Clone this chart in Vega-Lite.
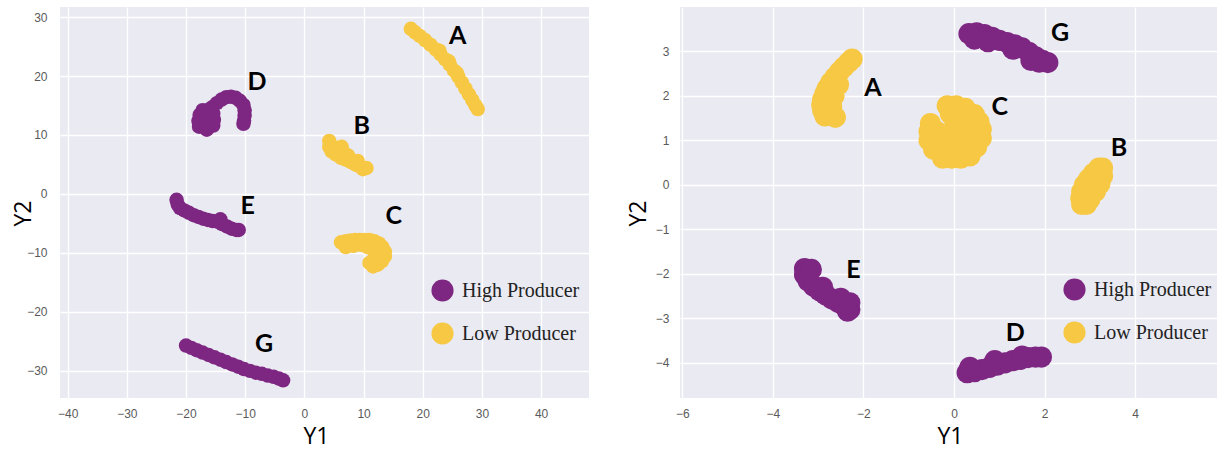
{
  "$schema": "https://vega.github.io/schema/vega-lite/v6.json",
  "background": "white",
  "padding": {"left": 12, "top": 7, "right": 0, "bottom": 14},
  "bounds": "flush",
  "spacing": 91,
  "datasets": {
    "left": [
      {"y1": 18.0, "y2": 28.0, "producer": "Low Producer", "cluster": "A"},
      {"y1": 18.7, "y2": 27.4, "producer": "Low Producer", "cluster": "A"},
      {"y1": 19.5, "y2": 26.8, "producer": "Low Producer", "cluster": "A"},
      {"y1": 20.4, "y2": 26.1, "producer": "Low Producer", "cluster": "A"},
      {"y1": 21.3, "y2": 25.3, "producer": "Low Producer", "cluster": "A"},
      {"y1": 22.2, "y2": 24.5, "producer": "Low Producer", "cluster": "A"},
      {"y1": 23.0, "y2": 23.7, "producer": "Low Producer", "cluster": "A"},
      {"y1": 23.8, "y2": 22.8, "producer": "Low Producer", "cluster": "A"},
      {"y1": 24.6, "y2": 21.9, "producer": "Low Producer", "cluster": "A"},
      {"y1": 25.3, "y2": 20.9, "producer": "Low Producer", "cluster": "A"},
      {"y1": 26.0, "y2": 19.9, "producer": "Low Producer", "cluster": "A"},
      {"y1": 26.6, "y2": 18.9, "producer": "Low Producer", "cluster": "A"},
      {"y1": 27.2, "y2": 17.9, "producer": "Low Producer", "cluster": "A"},
      {"y1": 27.8, "y2": 16.9, "producer": "Low Producer", "cluster": "A"},
      {"y1": 28.4, "y2": 15.9, "producer": "Low Producer", "cluster": "A"},
      {"y1": 28.9, "y2": 15.0, "producer": "Low Producer", "cluster": "A"},
      {"y1": 29.3, "y2": 14.4, "producer": "Low Producer", "cluster": "A"},
      {"y1": 22.8, "y2": 24.3, "producer": "Low Producer", "cluster": "A"},
      {"y1": 24.4, "y2": 22.5, "producer": "Low Producer", "cluster": "A"},
      {"y1": 25.8, "y2": 20.5, "producer": "Low Producer", "cluster": "A"},
      {"y1": 4.2, "y2": 9.0, "producer": "Low Producer", "cluster": "B"},
      {"y1": 4.2, "y2": 8.0, "producer": "Low Producer", "cluster": "B"},
      {"y1": 4.6, "y2": 7.2, "producer": "Low Producer", "cluster": "B"},
      {"y1": 5.3, "y2": 6.7, "producer": "Low Producer", "cluster": "B"},
      {"y1": 5.6, "y2": 7.8, "producer": "Low Producer", "cluster": "B"},
      {"y1": 6.3, "y2": 8.0, "producer": "Low Producer", "cluster": "B"},
      {"y1": 6.6, "y2": 7.1, "producer": "Low Producer", "cluster": "B"},
      {"y1": 6.2, "y2": 6.1, "producer": "Low Producer", "cluster": "B"},
      {"y1": 7.0, "y2": 5.8, "producer": "Low Producer", "cluster": "B"},
      {"y1": 7.4, "y2": 6.5, "producer": "Low Producer", "cluster": "B"},
      {"y1": 7.9, "y2": 5.4, "producer": "Low Producer", "cluster": "B"},
      {"y1": 8.6, "y2": 5.0, "producer": "Low Producer", "cluster": "B"},
      {"y1": 9.0, "y2": 5.6, "producer": "Low Producer", "cluster": "B"},
      {"y1": 9.3, "y2": 4.7, "producer": "Low Producer", "cluster": "B"},
      {"y1": 9.9, "y2": 4.2, "producer": "Low Producer", "cluster": "B"},
      {"y1": 10.5, "y2": 4.4, "producer": "Low Producer", "cluster": "B"},
      {"y1": 6.2, "y2": -8.2, "producer": "Low Producer", "cluster": "C"},
      {"y1": 7.0, "y2": -8.0, "producer": "Low Producer", "cluster": "C"},
      {"y1": 7.8, "y2": -7.9, "producer": "Low Producer", "cluster": "C"},
      {"y1": 8.6, "y2": -7.8, "producer": "Low Producer", "cluster": "C"},
      {"y1": 9.4, "y2": -7.8, "producer": "Low Producer", "cluster": "C"},
      {"y1": 10.2, "y2": -7.8, "producer": "Low Producer", "cluster": "C"},
      {"y1": 11.0, "y2": -7.8, "producer": "Low Producer", "cluster": "C"},
      {"y1": 11.8, "y2": -8.0, "producer": "Low Producer", "cluster": "C"},
      {"y1": 12.6, "y2": -8.4, "producer": "Low Producer", "cluster": "C"},
      {"y1": 13.2, "y2": -9.0, "producer": "Low Producer", "cluster": "C"},
      {"y1": 13.6, "y2": -9.8, "producer": "Low Producer", "cluster": "C"},
      {"y1": 13.6, "y2": -10.6, "producer": "Low Producer", "cluster": "C"},
      {"y1": 13.1, "y2": -11.4, "producer": "Low Producer", "cluster": "C"},
      {"y1": 12.4, "y2": -12.0, "producer": "Low Producer", "cluster": "C"},
      {"y1": 11.6, "y2": -12.3, "producer": "Low Producer", "cluster": "C"},
      {"y1": 11.0, "y2": -11.7, "producer": "Low Producer", "cluster": "C"},
      {"y1": 11.9, "y2": -10.5, "producer": "Low Producer", "cluster": "C"},
      {"y1": 12.4, "y2": -9.4, "producer": "Low Producer", "cluster": "C"},
      {"y1": 7.0, "y2": -9.0, "producer": "Low Producer", "cluster": "C"},
      {"y1": 8.3, "y2": -8.8, "producer": "Low Producer", "cluster": "C"},
      {"y1": 9.5, "y2": -8.6, "producer": "Low Producer", "cluster": "C"},
      {"y1": 10.7, "y2": -9.0, "producer": "Low Producer", "cluster": "C"},
      {"y1": 11.3, "y2": -8.8, "producer": "Low Producer", "cluster": "C"},
      {"y1": -17.8, "y2": 11.4, "producer": "High Producer", "cluster": "D"},
      {"y1": -17.9, "y2": 12.4, "producer": "High Producer", "cluster": "D"},
      {"y1": -17.7, "y2": 13.4, "producer": "High Producer", "cluster": "D"},
      {"y1": -17.2, "y2": 14.2, "producer": "High Producer", "cluster": "D"},
      {"y1": -16.5, "y2": 10.9, "producer": "High Producer", "cluster": "D"},
      {"y1": -16.6, "y2": 12.0, "producer": "High Producer", "cluster": "D"},
      {"y1": -16.6, "y2": 13.0, "producer": "High Producer", "cluster": "D"},
      {"y1": -16.4, "y2": 14.2, "producer": "High Producer", "cluster": "D"},
      {"y1": -15.4, "y2": 11.6, "producer": "High Producer", "cluster": "D"},
      {"y1": -15.3, "y2": 12.6, "producer": "High Producer", "cluster": "D"},
      {"y1": -15.4, "y2": 13.6, "producer": "High Producer", "cluster": "D"},
      {"y1": -15.6, "y2": 14.7, "producer": "High Producer", "cluster": "D"},
      {"y1": -14.8, "y2": 15.4, "producer": "High Producer", "cluster": "D"},
      {"y1": -14.0, "y2": 16.0, "producer": "High Producer", "cluster": "D"},
      {"y1": -13.2, "y2": 16.4, "producer": "High Producer", "cluster": "D"},
      {"y1": -12.4, "y2": 16.5, "producer": "High Producer", "cluster": "D"},
      {"y1": -11.6, "y2": 16.3, "producer": "High Producer", "cluster": "D"},
      {"y1": -10.9, "y2": 15.8, "producer": "High Producer", "cluster": "D"},
      {"y1": -10.3, "y2": 15.1, "producer": "High Producer", "cluster": "D"},
      {"y1": -10.1, "y2": 14.2, "producer": "High Producer", "cluster": "D"},
      {"y1": -10.1, "y2": 13.3, "producer": "High Producer", "cluster": "D"},
      {"y1": -10.2, "y2": 12.4, "producer": "High Producer", "cluster": "D"},
      {"y1": -10.3, "y2": 11.9, "producer": "High Producer", "cluster": "D"},
      {"y1": -21.6, "y2": -1.0, "producer": "High Producer", "cluster": "E"},
      {"y1": -21.4, "y2": -1.8, "producer": "High Producer", "cluster": "E"},
      {"y1": -21.0, "y2": -2.4, "producer": "High Producer", "cluster": "E"},
      {"y1": -20.3, "y2": -2.8, "producer": "High Producer", "cluster": "E"},
      {"y1": -19.5, "y2": -3.2, "producer": "High Producer", "cluster": "E"},
      {"y1": -18.7, "y2": -3.6, "producer": "High Producer", "cluster": "E"},
      {"y1": -17.9, "y2": -3.9, "producer": "High Producer", "cluster": "E"},
      {"y1": -17.1, "y2": -4.2, "producer": "High Producer", "cluster": "E"},
      {"y1": -16.3, "y2": -4.4, "producer": "High Producer", "cluster": "E"},
      {"y1": -15.5, "y2": -4.6, "producer": "High Producer", "cluster": "E"},
      {"y1": -14.7, "y2": -4.7, "producer": "High Producer", "cluster": "E"},
      {"y1": -14.2, "y2": -4.3, "producer": "High Producer", "cluster": "E"},
      {"y1": -13.9, "y2": -5.1, "producer": "High Producer", "cluster": "E"},
      {"y1": -13.1, "y2": -5.5, "producer": "High Producer", "cluster": "E"},
      {"y1": -12.3, "y2": -5.9, "producer": "High Producer", "cluster": "E"},
      {"y1": -11.5, "y2": -6.1, "producer": "High Producer", "cluster": "E"},
      {"y1": -11.1, "y2": -6.1, "producer": "High Producer", "cluster": "E"},
      {"y1": -20.0, "y2": -25.7, "producer": "High Producer", "cluster": "G"},
      {"y1": -19.1, "y2": -26.1, "producer": "High Producer", "cluster": "G"},
      {"y1": -18.2, "y2": -26.5, "producer": "High Producer", "cluster": "G"},
      {"y1": -17.2, "y2": -26.9, "producer": "High Producer", "cluster": "G"},
      {"y1": -16.2, "y2": -27.3, "producer": "High Producer", "cluster": "G"},
      {"y1": -15.2, "y2": -27.7, "producer": "High Producer", "cluster": "G"},
      {"y1": -14.2, "y2": -28.1, "producer": "High Producer", "cluster": "G"},
      {"y1": -13.2, "y2": -28.5, "producer": "High Producer", "cluster": "G"},
      {"y1": -12.2, "y2": -28.9, "producer": "High Producer", "cluster": "G"},
      {"y1": -11.2, "y2": -29.3, "producer": "High Producer", "cluster": "G"},
      {"y1": -10.2, "y2": -29.7, "producer": "High Producer", "cluster": "G"},
      {"y1": -9.2, "y2": -30.0, "producer": "High Producer", "cluster": "G"},
      {"y1": -8.2, "y2": -30.3, "producer": "High Producer", "cluster": "G"},
      {"y1": -7.2, "y2": -30.5, "producer": "High Producer", "cluster": "G"},
      {"y1": -6.2, "y2": -30.8, "producer": "High Producer", "cluster": "G"},
      {"y1": -5.2, "y2": -31.0, "producer": "High Producer", "cluster": "G"},
      {"y1": -4.3, "y2": -31.3, "producer": "High Producer", "cluster": "G"},
      {"y1": -3.6, "y2": -31.6, "producer": "High Producer", "cluster": "G"}
    ],
    "leftLabels": [
      {"y1": 25.9, "y2": 26.7, "cluster": "A"},
      {"y1": 9.7, "y2": 11.6, "cluster": "B"},
      {"y1": 15.1, "y2": -3.8, "cluster": "C"},
      {"y1": -8.0, "y2": 18.9, "cluster": "D"},
      {"y1": -9.6, "y2": -2.0, "cluster": "E"},
      {"y1": -6.8, "y2": -25.4, "cluster": "G"}
    ],
    "right": [
      {"y1": -2.85, "y2": 1.55, "producer": "Low Producer", "cluster": "A"},
      {"y1": -2.9, "y2": 1.68, "producer": "Low Producer", "cluster": "A"},
      {"y1": -2.92, "y2": 1.8, "producer": "Low Producer", "cluster": "A"},
      {"y1": -2.9, "y2": 1.92, "producer": "Low Producer", "cluster": "A"},
      {"y1": -2.85, "y2": 2.05, "producer": "Low Producer", "cluster": "A"},
      {"y1": -2.8, "y2": 2.17, "producer": "Low Producer", "cluster": "A"},
      {"y1": -2.72, "y2": 2.3, "producer": "Low Producer", "cluster": "A"},
      {"y1": -2.63, "y2": 2.42, "producer": "Low Producer", "cluster": "A"},
      {"y1": -2.53, "y2": 2.54, "producer": "Low Producer", "cluster": "A"},
      {"y1": -2.43, "y2": 2.65, "producer": "Low Producer", "cluster": "A"},
      {"y1": -2.33, "y2": 2.75, "producer": "Low Producer", "cluster": "A"},
      {"y1": -2.25, "y2": 2.83, "producer": "Low Producer", "cluster": "A"},
      {"y1": -2.62, "y2": 1.52, "producer": "Low Producer", "cluster": "A"},
      {"y1": -2.7, "y2": 1.75, "producer": "Low Producer", "cluster": "A"},
      {"y1": -2.65, "y2": 2.0, "producer": "Low Producer", "cluster": "A"},
      {"y1": -2.55, "y2": 2.25, "producer": "Low Producer", "cluster": "A"},
      {"y1": 2.82, "y2": -0.44, "producer": "Low Producer", "cluster": "B"},
      {"y1": 2.8, "y2": -0.3, "producer": "Low Producer", "cluster": "B"},
      {"y1": 2.82, "y2": -0.15, "producer": "Low Producer", "cluster": "B"},
      {"y1": 2.88, "y2": 0.0, "producer": "Low Producer", "cluster": "B"},
      {"y1": 2.97, "y2": 0.13, "producer": "Low Producer", "cluster": "B"},
      {"y1": 3.08, "y2": 0.26, "producer": "Low Producer", "cluster": "B"},
      {"y1": 3.2, "y2": 0.38, "producer": "Low Producer", "cluster": "B"},
      {"y1": 3.28, "y2": 0.38, "producer": "Low Producer", "cluster": "B"},
      {"y1": 3.28, "y2": 0.2, "producer": "Low Producer", "cluster": "B"},
      {"y1": 3.22, "y2": 0.02, "producer": "Low Producer", "cluster": "B"},
      {"y1": 3.12, "y2": -0.15, "producer": "Low Producer", "cluster": "B"},
      {"y1": 3.0, "y2": -0.32, "producer": "Low Producer", "cluster": "B"},
      {"y1": 2.92, "y2": -0.44, "producer": "Low Producer", "cluster": "B"},
      {"y1": 3.05, "y2": 0.05, "producer": "Low Producer", "cluster": "B"},
      {"y1": -0.25, "y2": 0.6, "producer": "Low Producer", "cluster": "C"},
      {"y1": -0.05, "y2": 0.6, "producer": "Low Producer", "cluster": "C"},
      {"y1": 0.15, "y2": 0.6, "producer": "Low Producer", "cluster": "C"},
      {"y1": 0.35, "y2": 0.65, "producer": "Low Producer", "cluster": "C"},
      {"y1": -0.45, "y2": 0.8, "producer": "Low Producer", "cluster": "C"},
      {"y1": -0.25, "y2": 0.8, "producer": "Low Producer", "cluster": "C"},
      {"y1": -0.05, "y2": 0.8, "producer": "Low Producer", "cluster": "C"},
      {"y1": 0.15, "y2": 0.8, "producer": "Low Producer", "cluster": "C"},
      {"y1": 0.35, "y2": 0.8, "producer": "Low Producer", "cluster": "C"},
      {"y1": 0.5, "y2": 0.85, "producer": "Low Producer", "cluster": "C"},
      {"y1": -0.55, "y2": 1.0, "producer": "Low Producer", "cluster": "C"},
      {"y1": -0.35, "y2": 1.0, "producer": "Low Producer", "cluster": "C"},
      {"y1": -0.15, "y2": 1.0, "producer": "Low Producer", "cluster": "C"},
      {"y1": 0.05, "y2": 1.0, "producer": "Low Producer", "cluster": "C"},
      {"y1": 0.25, "y2": 1.0, "producer": "Low Producer", "cluster": "C"},
      {"y1": 0.45, "y2": 1.0, "producer": "Low Producer", "cluster": "C"},
      {"y1": 0.6, "y2": 1.05, "producer": "Low Producer", "cluster": "C"},
      {"y1": -0.55, "y2": 1.2, "producer": "Low Producer", "cluster": "C"},
      {"y1": -0.38, "y2": 1.2, "producer": "Low Producer", "cluster": "C"},
      {"y1": 0.05, "y2": 1.2, "producer": "Low Producer", "cluster": "C"},
      {"y1": 0.25, "y2": 1.2, "producer": "Low Producer", "cluster": "C"},
      {"y1": 0.45, "y2": 1.2, "producer": "Low Producer", "cluster": "C"},
      {"y1": 0.6, "y2": 1.25, "producer": "Low Producer", "cluster": "C"},
      {"y1": -0.52, "y2": 1.38, "producer": "Low Producer", "cluster": "C"},
      {"y1": 0.02, "y2": 1.4, "producer": "Low Producer", "cluster": "C"},
      {"y1": 0.2, "y2": 1.4, "producer": "Low Producer", "cluster": "C"},
      {"y1": 0.4, "y2": 1.4, "producer": "Low Producer", "cluster": "C"},
      {"y1": 0.55, "y2": 1.42, "producer": "Low Producer", "cluster": "C"},
      {"y1": -0.08, "y2": 1.6, "producer": "Low Producer", "cluster": "C"},
      {"y1": 0.1, "y2": 1.6, "producer": "Low Producer", "cluster": "C"},
      {"y1": 0.3, "y2": 1.6, "producer": "Low Producer", "cluster": "C"},
      {"y1": 0.45, "y2": 1.58, "producer": "Low Producer", "cluster": "C"},
      {"y1": -0.15, "y2": 1.78, "producer": "Low Producer", "cluster": "C"},
      {"y1": 0.05, "y2": 1.78, "producer": "Low Producer", "cluster": "C"},
      {"y1": 0.25, "y2": 1.72, "producer": "Low Producer", "cluster": "C"},
      {"y1": 0.33, "y2": 3.4, "producer": "High Producer", "cluster": "G"},
      {"y1": 0.5, "y2": 3.42, "producer": "High Producer", "cluster": "G"},
      {"y1": 0.67, "y2": 3.38, "producer": "High Producer", "cluster": "G"},
      {"y1": 0.84, "y2": 3.32, "producer": "High Producer", "cluster": "G"},
      {"y1": 1.0, "y2": 3.25, "producer": "High Producer", "cluster": "G"},
      {"y1": 1.17, "y2": 3.2, "producer": "High Producer", "cluster": "G"},
      {"y1": 1.34, "y2": 3.15, "producer": "High Producer", "cluster": "G"},
      {"y1": 1.5, "y2": 3.08, "producer": "High Producer", "cluster": "G"},
      {"y1": 1.65, "y2": 2.98, "producer": "High Producer", "cluster": "G"},
      {"y1": 1.8, "y2": 2.88, "producer": "High Producer", "cluster": "G"},
      {"y1": 1.95, "y2": 2.8, "producer": "High Producer", "cluster": "G"},
      {"y1": 2.07, "y2": 2.75, "producer": "High Producer", "cluster": "G"},
      {"y1": 0.45, "y2": 3.28, "producer": "High Producer", "cluster": "G"},
      {"y1": 0.75, "y2": 3.22, "producer": "High Producer", "cluster": "G"},
      {"y1": 1.3, "y2": 3.05, "producer": "High Producer", "cluster": "G"},
      {"y1": 1.7, "y2": 2.8, "producer": "High Producer", "cluster": "G"},
      {"y1": 1.88, "y2": 2.76, "producer": "High Producer", "cluster": "G"},
      {"y1": -3.3, "y2": -1.88, "producer": "High Producer", "cluster": "E"},
      {"y1": -3.3, "y2": -2.02, "producer": "High Producer", "cluster": "E"},
      {"y1": -3.22, "y2": -2.16, "producer": "High Producer", "cluster": "E"},
      {"y1": -3.1, "y2": -2.28, "producer": "High Producer", "cluster": "E"},
      {"y1": -2.97, "y2": -2.38, "producer": "High Producer", "cluster": "E"},
      {"y1": -2.84, "y2": -2.47, "producer": "High Producer", "cluster": "E"},
      {"y1": -2.7, "y2": -2.56, "producer": "High Producer", "cluster": "E"},
      {"y1": -2.56, "y2": -2.64, "producer": "High Producer", "cluster": "E"},
      {"y1": -2.42, "y2": -2.72, "producer": "High Producer", "cluster": "E"},
      {"y1": -2.3, "y2": -2.8, "producer": "High Producer", "cluster": "E"},
      {"y1": -2.3, "y2": -2.65, "producer": "High Producer", "cluster": "E"},
      {"y1": -2.5, "y2": -2.55, "producer": "High Producer", "cluster": "E"},
      {"y1": -3.15, "y2": -1.9, "producer": "High Producer", "cluster": "E"},
      {"y1": -2.9, "y2": -2.3, "producer": "High Producer", "cluster": "E"},
      {"y1": -2.35, "y2": -2.84, "producer": "High Producer", "cluster": "E"},
      {"y1": 0.29, "y2": -4.22, "producer": "High Producer", "cluster": "D"},
      {"y1": 0.45, "y2": -4.2, "producer": "High Producer", "cluster": "D"},
      {"y1": 0.62, "y2": -4.15, "producer": "High Producer", "cluster": "D"},
      {"y1": 0.79, "y2": -4.1, "producer": "High Producer", "cluster": "D"},
      {"y1": 0.96, "y2": -4.05, "producer": "High Producer", "cluster": "D"},
      {"y1": 1.13, "y2": -4.0, "producer": "High Producer", "cluster": "D"},
      {"y1": 1.3, "y2": -3.95, "producer": "High Producer", "cluster": "D"},
      {"y1": 1.47, "y2": -3.92, "producer": "High Producer", "cluster": "D"},
      {"y1": 1.64, "y2": -3.88, "producer": "High Producer", "cluster": "D"},
      {"y1": 1.8, "y2": -3.87, "producer": "High Producer", "cluster": "D"},
      {"y1": 1.93, "y2": -3.87, "producer": "High Producer", "cluster": "D"},
      {"y1": 0.35, "y2": -4.1, "producer": "High Producer", "cluster": "D"},
      {"y1": 0.9, "y2": -3.95, "producer": "High Producer", "cluster": "D"},
      {"y1": 1.5, "y2": -3.85, "producer": "High Producer", "cluster": "D"}
    ],
    "rightLabels": [
      {"y1": -1.79, "y2": 2.17, "cluster": "A"},
      {"y1": 3.64, "y2": 0.82, "cluster": "B"},
      {"y1": 1.01, "y2": 1.76, "cluster": "C"},
      {"y1": 1.35, "y2": -3.33, "cluster": "D"},
      {"y1": -2.22, "y2": -1.91, "cluster": "E"},
      {"y1": 2.34, "y2": 3.41, "cluster": "G"}
    ]
  },
  "hconcat": [
    {
      "width": 529,
      "height": 391,
      "layer": [
        {
          "data": {"name": "left"},
          "mark": {"type": "circle", "size": 210, "opacity": 1},
          "encoding": {
            "x": {"field": "y1", "type": "quantitative", "title": "Y1",
                  "scale": {"domain": [-41.3, 48.1], "nice": false, "zero": false},
                  "axis": {"values": [-40, -30, -20, -10, 0, 10, 20, 30, 40], "labelPadding": 10, "titleX": 256, "titleY": 27}},
            "y": {"field": "y2", "type": "quantitative", "title": "Y2",
                  "scale": {"domain": [-34.6, 31.7], "nice": false, "zero": false},
                  "axis": {"values": [-30, -20, -10, 0, 10, 20, 30], "labelPadding": 13, "titleX": -25, "titleY": 206}},
            "color": {"field": "producer", "type": "nominal",
                      "scale": {"domain": ["High Producer", "Low Producer"], "range": ["#7D2782", "#F7C843"]},
                      "legend": {"title": null, "orient": "none", "legendX": 371, "legendY": 272}}
          }
        },
        {
          "data": {"name": "leftLabels"},
          "mark": {"type": "text", "font": "Lato", "fontSize": 25, "fontWeight": "bold", "color": "black"},
          "encoding": {
            "x": {"field": "y1", "type": "quantitative", "title": "Y1"},
            "y": {"field": "y2", "type": "quantitative", "title": "Y2"},
            "text": {"field": "cluster"}
          }
        }
      ]
    },
    {
      "width": 539,
      "height": 391,
      "layer": [
        {
          "data": {"name": "right"},
          "mark": {"type": "circle", "size": 450, "opacity": 1},
          "encoding": {
            "x": {"field": "y1", "type": "quantitative", "title": "Y1",
                  "scale": {"domain": [-6.05, 5.85], "nice": false, "zero": false},
                  "axis": {"values": [-6, -4, -2, 0, 2, 4], "labelPadding": 10, "titleX": 270, "titleY": 27}},
            "y": {"field": "y2", "type": "quantitative", "title": "Y2",
                  "scale": {"domain": [-4.79, 4.0], "nice": false, "zero": false},
                  "axis": {"values": [-4, -3, -2, -1, 0, 1, 2, 3], "labelPadding": 11, "titleX": -30, "titleY": 206}},
            "color": {"field": "producer", "type": "nominal",
                      "scale": {"domain": ["High Producer", "Low Producer"], "range": ["#7D2782", "#F7C843"]},
                      "legend": {"title": null, "orient": "none", "legendX": 383, "legendY": 271}}
          }
        },
        {
          "data": {"name": "rightLabels"},
          "mark": {"type": "text", "font": "Lato", "fontSize": 25, "fontWeight": "bold", "color": "black"},
          "encoding": {
            "x": {"field": "y1", "type": "quantitative", "title": "Y1"},
            "y": {"field": "y2", "type": "quantitative", "title": "Y2"},
            "text": {"field": "cluster"}
          }
        }
      ]
    }
  ],
  "resolve": {"scale": {"color": "independent"}, "legend": {"color": "independent"}},
  "config": {
    "view": {"fill": "#EAEAF2", "stroke": null},
    "axis": {
      "domain": false, "ticks": false, "tickSize": 0,
      "grid": true, "gridColor": "#FFFFFF", "gridWidth": 1.3,
      "labelFont": "Liberation Sans", "labelFontSize": 12, "labelColor": "#5A5A5A",
      "labelFlush": false, "labelOverlap": false,
      "titleFont": "Open Sans", "titleFontSize": 23, "titleFontWeight": "normal", "titleColor": "#000000"
    },
    "legend": {
      "symbolType": "circle", "symbolSize": 490, "symbolStrokeWidth": 0, "symbolOpacity": 1,
      "labelFont": "Liberation Serif", "labelFontSize": 20, "labelColor": "#222222",
      "labelOffset": 8, "rowPadding": 20, "padding": 0, "offset": 0
    }
  }
}
